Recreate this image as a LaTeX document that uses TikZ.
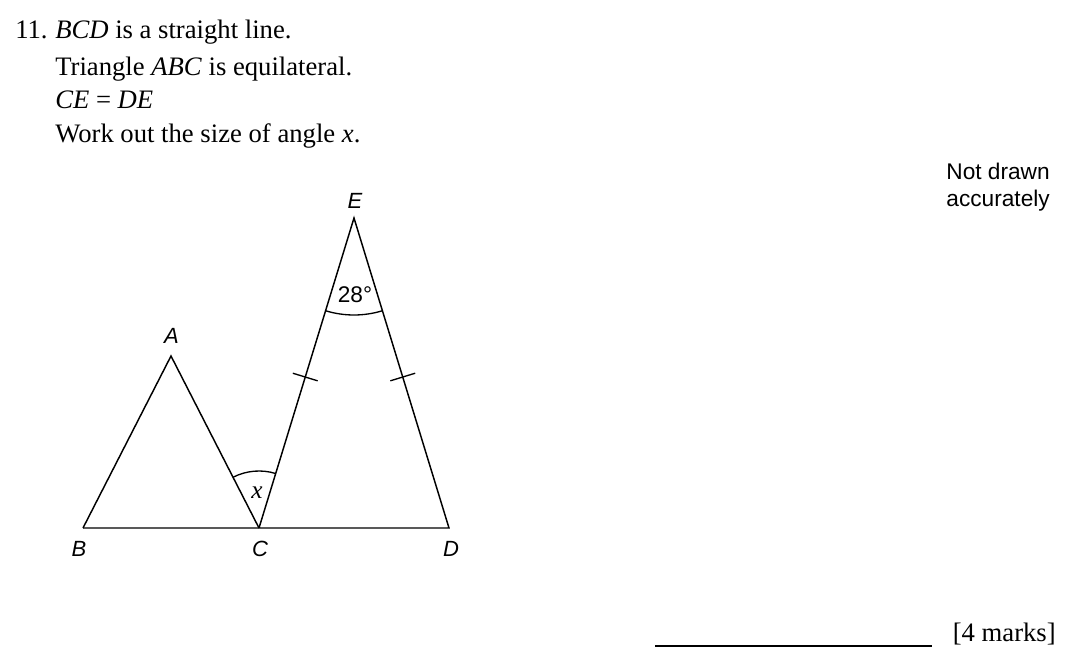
\documentclass[tikz,border=0pt]{standalone}
\usepackage{fontspec}
\setmainfont{Liberation Serif}
\newfontfamily\arialf{Liberation Sans}
\usetikzlibrary{calc,angles}
\begin{document}
\begin{tikzpicture}[x=0.75pt,y=0.75pt,
  geo/.style={line width=1.1pt, line join=miter},
  qtext/.style={anchor=base west, inner sep=0pt, font=\fontsize{20pt}{23pt}\selectfont},
  ptlabel/.style={inner sep=0pt, font=\arialf\itshape\fontsize{16.5pt}{18pt}\selectfont},
  marktick/.style={line width=1pt}]
\useasboundingbox (0,0) rectangle (1065,662);
% question text
\node[qtext] (n11) at (15,623.5) {11.};
\node[qtext] (l1) at (55,623.5) {\textit{BCD} is a straight line.};
\node[qtext] (l2) at (55,586) {Triangle \textit{ABC} is equilateral.};
\node[qtext] (l3) at (55,553.5) {\textit{CE} = \textit{DE}};
\node[qtext] (l4) at (55,519) {Work out the size of angle \textit{x}.};
\node[anchor=north east, inner sep=0pt, align=right, font=\arialf\fontsize{17pt}{20.5pt}\selectfont] (nda) at (1050,499.5) {Not drawn\\accurately};
% geometry
\coordinate (B) at (83,134);
\coordinate (C) at (259,134);
\coordinate (D) at (449,134);
\coordinate (A) at (171,306);
\coordinate (E) at (354,444);
\draw[geo] (B) -- (A) -- (C);
\draw[geo] (B) -- (D) -- (E) -- (C);
\pic[draw, line width=1pt, angle radius=72.75pt] {angle = C--E--D};
\pic[draw, line width=1pt, angle radius=42.75pt] {angle = E--C--A};
% equal-length ticks
\coordinate (t1) at ($(C)!0.487!(E)$);
\coordinate (t2) at ($(D)!0.487!(E)$);
\draw[marktick] ($(t1)!9.75pt!90:(E)$) -- ($(t1)!9.75pt!-90:(E)$);
\draw[marktick] ($(t2)!9.75pt!90:(E)$) -- ($(t2)!9.75pt!-90:(E)$);
% labels
\node[ptlabel] (lA) at (171.5,326) {A};
\node[ptlabel] (lB) at (79,113) {B};
\node[ptlabel] (lC) at (260,113) {C};
\node[ptlabel] (lD) at (451,113) {D};
\node[ptlabel] (lE) at (355,461) {E};
\node[inner sep=0pt, font=\arialf\fontsize{17pt}{19pt}\selectfont] (a28) at (355,367) {28°};
\node[inner sep=0pt, font=\itshape\fontsize{19pt}{21pt}\selectfont] (ax) at (257,169.5) {x};
% answer line
\coordinate (al) at (655,16);
\coordinate (ar) at (932,16);
\draw[line width=0.9pt] (al) -- (ar);
\node[anchor=base east, inner sep=0pt, font=\fontsize{20pt}{23pt}\selectfont] (marks) at (1056,21) {[4 marks]};
\end{tikzpicture}
\end{document}
